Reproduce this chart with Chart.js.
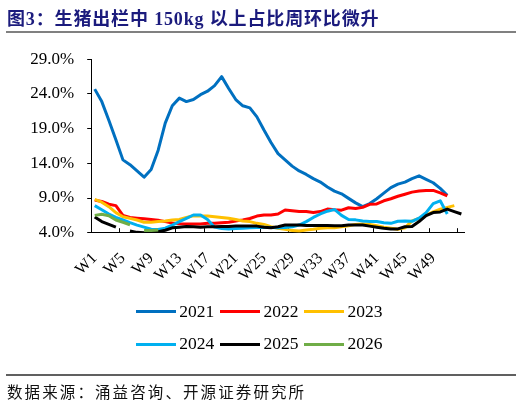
<!DOCTYPE html>
<html>
<head>
<meta charset="utf-8">
<script src="https://cdn.jsdelivr.net/npm/chart.js@4.4.1/dist/chart.umd.min.js"></script>
<style>
  html, body { margin:0; padding:0; background:#fff; }
  body { width:522px; height:405px; position:relative; overflow:hidden; }
  #c { position:absolute; left:0; top:0; }
  .title { position:absolute; left:7px; top:4px; font-weight:bold; font-size:18px;
           font-family:'Liberation Serif','Noto Sans CJK SC',serif; color:#1b1b7d; white-space:nowrap; letter-spacing:0.85px; }
  .rule1 { position:absolute; left:6px; width:510px; top:31px; height:2px; background:#808080; }
  .rule2 { position:absolute; left:6px; width:510px; top:374px; height:1.5px; background:#606060; }
  .source { position:absolute; left:7px; top:380px; font-size:15.5px; font-family:'Noto Sans CJK SC',sans-serif;
            color:#111; white-space:nowrap; letter-spacing:2.1px; }
  .leg { position:absolute; font-family:'Liberation Serif',serif; font-size:17.5px; color:#000; }
  .leg .ln { position:absolute; width:40px; height:3px; }
  .leg .tx { position:absolute; white-space:nowrap; }
</style>
</head>
<body>
<canvas id="c" width="522" height="405"></canvas>
<div class="title">图3：生猪出栏中 150kg 以上占比周环比微升</div>
<div class="rule1"></div>
<div id="legend"></div>
<div class="rule2"></div>
<div class="source">数据来源：涌益咨询、开源证券研究所</div>
<script>
// ---- data ----
const weeks = [];
for (let i = 1; i <= 53; i++) weeks.push('W' + i);

const seriesNames = ['2021', '2022', '2023', '2024', '2025', '2026'];
const seriesColors = ['#0070C0', '#FF0000', '#FFC000', '#00B0F0', '#000000', '#70AD47'];

const y2021 = [24.7,22.9,20.2,17.4,14.5,13.8,12.9,12.0,13.1,15.9,19.8,22.3,23.4,22.9,23.2,23.9,24.4,25.2,26.5,24.8,
               23.2,22.3,22.0,20.7,18.8,17.0,15.4,14.5,13.6,12.9,12.4,11.8,11.3,10.6,10.0,9.6,8.95,8.3,7.75,8.2,
               8.9,9.7,10.5,11.0,11.3,11.8,12.2,11.7,11.2,10.4,9.4,null,null];
const y2022 = [8.7,8.5,8.1,7.9,6.5,6.2,6.1,6.0,5.9,5.8,5.6,5.4,5.3,5.25,5.25,5.25,5.35,5.35,5.45,5.5,
               5.7,5.85,6.05,6.4,6.55,6.55,6.7,7.27,7.15,7.05,7.05,6.9,7.05,7.4,7.3,7.25,7.6,7.5,7.65,8.1,
               8.15,8.6,8.9,9.25,9.55,9.85,10.0,10.1,10.1,9.75,9.3,null,null];
const y2023 = [8.8,8.4,7.75,6.9,6.3,6.07,5.83,5.5,5.5,5.6,5.7,5.83,5.9,6.2,6.45,6.4,6.4,6.3,6.2,6.07,
               5.9,5.7,5.6,5.35,5.2,4.86,4.65,4.5,4.3,4.25,4.4,4.5,4.65,4.7,4.72,4.86,5.0,5.2,5.25,5.2,
               5.0,4.8,4.65,4.5,4.7,5.7,6.07,6.55,7.0,7.4,7.65,7.9,null];
const y2024 = [7.9,7.3,6.7,6.2,5.83,5.45,5.1,4.8,4.5,4.45,4.65,5.1,5.6,6.07,6.55,6.55,5.9,4.8,4.6,4.55,
               4.6,4.65,4.7,4.75,4.8,4.75,4.7,4.75,4.85,5.1,5.6,6.2,6.7,7.1,7.35,6.5,5.9,5.85,5.7,5.6,
               5.6,5.45,5.35,5.65,5.7,5.65,6.1,6.9,8.2,8.6,6.7,null,null];
const y2025 = [6.25,5.6,5.2,4.8,null,4.24,4.05,4.0,4.05,4.15,4.35,4.7,4.8,4.9,4.85,4.8,4.85,4.85,4.9,4.9,
               4.95,4.95,4.95,4.95,4.8,4.7,4.86,5.1,5.1,5.1,5.05,5.05,5.05,5.05,5.0,5.0,5.1,5.1,5.1,4.95,
               4.8,4.65,4.55,4.55,4.86,4.9,5.6,6.45,6.9,7.0,7.4,7.05,6.7];
const y2026 = [6.5,6.65,6.45,5.83,5.5,5.15,null,4.3,4.3,4.4,null,null,null,null,null,null,null,null,null,null,
               null,null,null,null,null,null,null,null,null,null,null,null,null,null,null,null,null,null,null,null,
               null,null,null,null,null,null,null,null,null,null,null,null,null];
const seriesValues = [y2021, y2022, y2023, y2024, y2025, y2026];

const yMin = 4, yMax = 29, yStep = 5;
const labelEvery = 4;

// ---- chart ----
const datasets = seriesNames.map((n, i) => ({
  label: n,
  data: seriesValues[i],
  borderColor: seriesColors[i],
  backgroundColor: seriesColors[i],
  borderWidth: 3,
  pointRadius: 0,
  tension: 0,
  spanGaps: false,
  order: seriesNames.length - i,
  borderJoinStyle: 'round',
  borderCapStyle: 'butt'
}));

const AREA = { left: 91.2, right: 464.9, top: 59.3, bottom: 232.7 };
const W = 522, H = 405;

new Chart(document.getElementById('c'), {
  type: 'line',
  data: { labels: weeks, datasets },
  options: {
    responsive: false,
    animation: false,
    devicePixelRatio: 1,
    layout: { padding: { left: 0, right: W - AREA.right, top: AREA.top, bottom: 0 } },
    plugins: { legend: { display: false }, tooltip: { enabled: false }, title: { display: false } },
    scales: {
      x: {
        type: 'category',
        offset: true,
        afterFit: s => { s.height = H - AREA.bottom; },
        border: { display: true, color: '#000', width: 1 },
        grid: {
          offset: true,
          drawOnChartArea: false,
          drawTicks: true,
          tickLength: -4.5,
          color: 'rgba(0,0,0,0)',
          tickColor: ctx => (ctx.index !== undefined && ctx.index > 0 && ctx.index % labelEvery === 0 && ctx.index < weeks.length) ? '#000' : 'rgba(0,0,0,0)',
          tickWidth: 1
        },
        ticks: {
          autoSkip: false,
          maxRotation: 45,
          minRotation: 45,
          padding: 21,
          color: '#000',
          font: { family: 'Liberation Serif', size: 16 },
          callback: (v, i) => (i % labelEvery === 0 && i < weeks.length - 1) ? weeks[i] : ''
        }
      },
      y: {
        min: yMin,
        max: yMax,
        afterFit: s => { s.width = AREA.left; },
        border: { display: true, color: '#000', width: 1 },
        grid: { drawOnChartArea: false, drawTicks: true, tickLength: 4, color: '#000' },
        ticks: {
          stepSize: yStep,
          padding: 13,
          color: '#000',
          font: { family: 'Liberation Serif', size: 17 },
          callback: v => v.toFixed(1) + '%'
        }
      }
    }
  }
});

// ---- legend (HTML, built from the series arrays) ----
const legend = document.getElementById('legend');
const colX = [135.7, 220, 304];
const rowY = [311.5, 344];
seriesNames.forEach((n, i) => {
  const r = Math.floor(i / 3), c = i % 3;
  const item = document.createElement('div');
  item.className = 'leg';
  item.style.left = colX[c] + 'px';
  item.style.top = rowY[r] + 'px';
  const ln = document.createElement('div');
  ln.className = 'ln';
  ln.style.background = seriesColors[i];
  ln.style.left = '0px';
  ln.style.top = '-1.5px';
  const tx = document.createElement('div');
  tx.className = 'tx';
  tx.textContent = n;
  tx.style.left = '43.6px';
  tx.style.top = '-11px';
  item.appendChild(ln);
  item.appendChild(tx);
  legend.appendChild(item);
});
</script>
</body>
</html>
